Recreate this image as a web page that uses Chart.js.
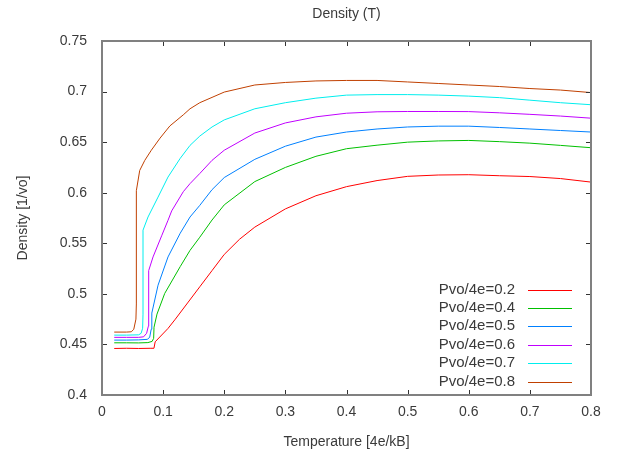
<!DOCTYPE html>
<html>
<head>
<meta charset="utf-8">
<script src="https://cdn.jsdelivr.net/npm/chart.js@4/dist/chart.umd.min.js"></script>
<style>
  html, body { margin: 0; padding: 0; background: #ffffff; }
  #wrap { width: 617px; height: 453px; }
</style>
</head>
<body>
<div id="wrap"><canvas id="c" width="617" height="453"></canvas></div>
<script>
// ---- Data ----
const seriesLabels = ["Pvo/4e=0.2", "Pvo/4e=0.4", "Pvo/4e=0.5", "Pvo/4e=0.6", "Pvo/4e=0.7", "Pvo/4e=0.8"];
const seriesColors = ["#ff0000", "#00c000", "#0080ff", "#c000ff", "#00eeee", "#c04000"];

const tempP02 = [0.02, 0.04, 0.06, 0.08, 0.085, 0.087, 0.108, 0.12, 0.14, 0.16, 0.18, 0.2, 0.225, 0.25, 0.3, 0.35, 0.4, 0.45, 0.5, 0.55, 0.6, 0.65, 0.7, 0.75, 0.8];
const densP02 = [0.446, 0.4462, 0.446, 0.4462, 0.4462, 0.4526, 0.4658, 0.475, 0.491, 0.507, 0.523, 0.539, 0.554, 0.566, 0.584, 0.597, 0.606, 0.612, 0.6162, 0.6175, 0.6178, 0.6168, 0.616, 0.614, 0.6105];

const tempP04 = [0.02, 0.04, 0.06, 0.075, 0.082, 0.0845, 0.0851, 0.09, 0.1026, 0.128, 0.144, 0.16, 0.18, 0.2, 0.25, 0.3, 0.35, 0.4, 0.45, 0.5, 0.55, 0.6, 0.65, 0.7, 0.75, 0.8];
const densP04 = [0.4516, 0.4516, 0.4515, 0.4518, 0.453, 0.456, 0.467, 0.48, 0.5004, 0.527, 0.543, 0.556, 0.573, 0.588, 0.611, 0.625, 0.636, 0.6435, 0.647, 0.65, 0.6512, 0.6517, 0.6505, 0.649, 0.6468, 0.6445];

const tempP05 = [0.02, 0.04, 0.06, 0.074, 0.078, 0.0805, 0.0815, 0.0917, 0.108, 0.128, 0.144, 0.16, 0.18, 0.2, 0.25, 0.3, 0.35, 0.4, 0.45, 0.5, 0.55, 0.6, 0.65, 0.7, 0.75, 0.8];
const densP05 = [0.4543, 0.4543, 0.4545, 0.455, 0.457, 0.465, 0.481, 0.5086, 0.5365, 0.56, 0.576, 0.5875, 0.603, 0.615, 0.633, 0.646, 0.655, 0.66, 0.663, 0.665, 0.6658, 0.6658, 0.6645, 0.663, 0.6615, 0.66];

const tempP06 = [0.02, 0.04, 0.06, 0.068, 0.073, 0.0758, 0.0764, 0.0764, 0.0835, 0.098, 0.108, 0.114, 0.133, 0.144, 0.16, 0.18, 0.2, 0.25, 0.3, 0.35, 0.4, 0.45, 0.5, 0.55, 0.6, 0.65, 0.7, 0.75, 0.8];
const densP06 = [0.457, 0.457, 0.457, 0.4575, 0.461, 0.468, 0.48, 0.523, 0.5365, 0.558, 0.5727, 0.582, 0.601, 0.609, 0.619, 0.632, 0.642, 0.659, 0.669, 0.675, 0.6786, 0.68, 0.6803, 0.6803, 0.6802, 0.679, 0.6775, 0.6758, 0.6737];

const tempP07 = [0.02, 0.04, 0.06, 0.064, 0.0665, 0.0671, 0.0671, 0.0753, 0.0917, 0.108, 0.128, 0.144, 0.16, 0.18, 0.2, 0.25, 0.3, 0.35, 0.4, 0.45, 0.5, 0.55, 0.6, 0.65, 0.7, 0.75, 0.8];
const densP07 = [0.4592, 0.4592, 0.4595, 0.461, 0.466, 0.48, 0.563, 0.576, 0.5957, 0.6155, 0.634, 0.6468, 0.656, 0.665, 0.672, 0.683, 0.689, 0.6935, 0.6965, 0.697, 0.697, 0.6965, 0.6955, 0.694, 0.6915, 0.689, 0.687];

const tempP08 = [0.02, 0.04, 0.048, 0.052, 0.0555, 0.0562, 0.0562, 0.0617, 0.07, 0.0807, 0.095, 0.111, 0.133, 0.144, 0.16, 0.2, 0.25, 0.3, 0.35, 0.4, 0.45, 0.5, 0.55, 0.6, 0.65, 0.7, 0.75, 0.8];
const densP08 = [0.4622, 0.4622, 0.4625, 0.465, 0.475, 0.49, 0.602, 0.622, 0.632, 0.642, 0.654, 0.666, 0.677, 0.683, 0.689, 0.6995, 0.7065, 0.709, 0.7105, 0.711, 0.711, 0.7095, 0.708, 0.7065, 0.705, 0.703, 0.7015, 0.699];

const xTickValues = [0, 0.1, 0.2, 0.3, 0.4, 0.5, 0.6, 0.7, 0.8];
const yTickValues = [0.4, 0.45, 0.5, 0.55, 0.6, 0.65, 0.7, 0.75];

const chartTitle = "Density (T)";
const xAxisTitle = "Temperature [4e/kB]";
const yAxisTitle = "Density [1/vo]";

// ---- Build datasets ----
const temps = [tempP02, tempP04, tempP05, tempP06, tempP07, tempP08];
const dens = [densP02, densP04, densP05, densP06, densP07, densP08];
const datasets = seriesLabels.map((lab, i) => ({
  label: lab,
  data: temps[i].map((t, j) => ({ x: t, y: dens[i][j] })),
  borderColor: seriesColors[i],
  backgroundColor: seriesColors[i],
  borderWidth: 1,
  pointRadius: 0,
  showLine: true,
  tension: 0,
  fill: false
}));

const FONT = "'Liberation Sans', Arial, sans-serif";
const TEXT = "#3a3a3a";

const fmt = v => String(Number(v.toFixed(2)));

// Frame with inward (mirrored) tick marks
const framePlugin = {
  id: 'frame',
  afterDatasetsDraw(chart) {
    const { ctx, chartArea: a, scales } = chart;
    ctx.save();
    ctx.strokeStyle = '#333333';
    ctx.lineWidth = 1;
    const L = 5;
    scales.x.ticks.forEach(t => {
      const px = Math.round(scales.x.getPixelForValue(t.value)) + 0.5;
      ctx.beginPath();
      ctx.moveTo(px, a.bottom); ctx.lineTo(px, a.bottom - L);
      ctx.moveTo(px, a.top); ctx.lineTo(px, a.top + L);
      ctx.stroke();
    });
    scales.y.ticks.forEach(t => {
      const py = Math.round(scales.y.getPixelForValue(t.value)) + 0.5;
      ctx.beginPath();
      ctx.moveTo(a.left, py); ctx.lineTo(a.left + L, py);
      ctx.moveTo(a.right, py); ctx.lineTo(a.right - L, py);
      ctx.stroke();
    });
    ctx.strokeStyle = '#808080';
    ctx.lineWidth = 2;
    ctx.strokeRect(a.left, a.top, a.right - a.left, a.bottom - a.top);
    ctx.restore();
  }
};

// gnuplot-style key inside the plot, bottom right
const keyPlugin = {
  id: 'key',
  afterDraw(chart) {
    const { ctx, chartArea: a } = chart;
    ctx.save();
    ctx.font = "15px " + FONT;
    ctx.textAlign = 'right';
    ctx.textBaseline = 'middle';
    const n = chart.data.datasets.length;
    chart.data.datasets.forEach((ds, i) => {
      const y = a.bottom - 13.5 - (n - 1 - i) * 18.4;
      ctx.fillStyle = TEXT;
      ctx.fillText(ds.label, a.right - 76, y);
      ctx.strokeStyle = ds.borderColor;
      ctx.lineWidth = 1;
      ctx.beginPath();
      ctx.moveTo(a.right - 63, Math.round(y) + 0.5);
      ctx.lineTo(a.right - 19, Math.round(y) + 0.5);
      ctx.stroke();
    });
    ctx.restore();
  }
};

new Chart(document.getElementById('c'), {
  type: 'scatter',
  data: { datasets },
  options: {
    responsive: false,
    animation: false,
    devicePixelRatio: 1,
    layout: { padding: { left: 0, right: 26, top: 0, bottom: 0 } },
    plugins: {
      legend: { display: false },
      tooltip: { enabled: false },
      title: {
        display: true,
        text: chartTitle,
        fullSize: false,
        color: TEXT,
        font: { family: FONT, size: 14, weight: 'normal', lineHeight: 1.2 },
        padding: { top: 5.6, bottom: 18.6 }
      }
    },
    scales: {
      x: {
        type: 'linear',
        min: 0, max: 0.8,
        afterBuildTicks: s => { s.ticks = xTickValues.map(v => ({ value: v })); },
        afterFit: s => { s.height = 58; },
        grid: { display: false, drawTicks: false },
        border: { display: false },
        ticks: {
          color: TEXT, padding: 9, maxRotation: 0, autoSkip: false,
          font: { family: FONT, size: 14 },
          callback: v => fmt(v)
        },
        title: {
          display: true, text: xAxisTitle, color: TEXT,
          font: { family: FONT, size: 14, lineHeight: 1.2 },
          padding: { top: 2, bottom: 2 }
        }
      },
      y: {
        type: 'linear',
        min: 0.4, max: 0.75,
        afterBuildTicks: s => { s.ticks = yTickValues.map(v => ({ value: v })); },
        afterFit: s => { s.width = 102; },
        grid: { display: false, drawTicks: false },
        border: { display: false },
        ticks: {
          color: TEXT, padding: 15, autoSkip: false,
          font: { family: FONT, size: 14 },
          callback: v => fmt(v)
        },
        title: {
          display: true, text: yAxisTitle, color: TEXT,
          font: { family: FONT, size: 14, lineHeight: 1.2 },
          padding: { top: 15, bottom: 4 }
        }
      }
    }
  },
  plugins: [framePlugin, keyPlugin]
});
</script>
</body>
</html>
